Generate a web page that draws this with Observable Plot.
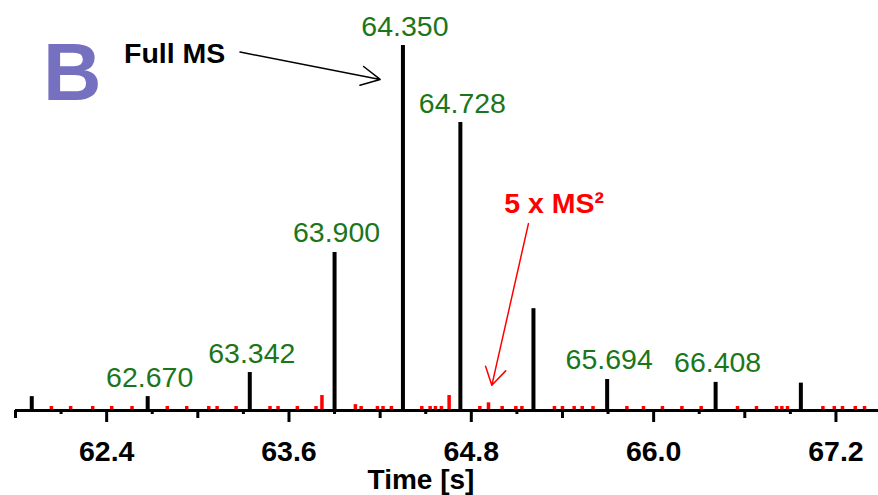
<!DOCTYPE html>
<html>
<head>
<meta charset="utf-8">
<script src="https://cdn.jsdelivr.net/npm/d3@7"></script>
<script src="https://cdn.jsdelivr.net/npm/@observablehq/plot@0.6"></script>
<style>
  html, body { margin: 0; padding: 0; background: #fff; }
</style>
</head>
<body>
<div id="chart"></div>
<script>
// Full MS scans (black): time [s], relative intensity, label
const fullMsTime = [61.907, 62.670, 63.342, 63.900, 64.350, 64.728, 65.209, 65.694, 66.408, 66.969];
const fullMsIntensity = [3.8, 3.8, 10.4, 43.3, 100, 78.9, 27.9, 8.5, 7.7, 7.5];
const fullMsLabels = ["", "62.670", "63.342", "63.900", "64.350", "64.728", "", "65.694", "66.408", ""];

// MS2 scans (red): time [s], relative intensity
const ms2Time = [62.036, 62.163, 62.308, 62.433, 62.567, 62.799, 62.927, 63.072, 63.127, 63.252,
  63.475, 63.528, 63.655, 63.778, 63.817, 64.037, 64.075, 64.182, 64.219, 64.274,
  64.474, 64.529, 64.564, 64.603, 64.654, 64.856, 64.913, 65.003, 65.093, 65.133,
  65.347, 65.400, 65.477, 65.530, 65.601, 65.824, 65.933, 66.058, 66.186, 66.313,
  66.552, 66.677, 66.809, 66.844, 66.881, 67.114, 67.189, 67.243, 67.327, 67.388];
const ms2Intensity = [1.1, 1.1, 1.1, 1.1, 1.1, 1.1, 1.1, 1.1, 1.1, 1.1,
  1.1, 1.1, 1.1, 1.1, 4.1, 1.6, 1.1, 1.1, 1.1, 1.1,
  1.1, 1.1, 1.1, 1.1, 4.1, 1.1, 2.1, 1.1, 1.1, 1.1,
  1.1, 1.1, 1.1, 1.1, 1.1, 1.1, 1.1, 1.1, 1.1, 1.1,
  1.1, 1.1, 1.1, 1.1, 1.1, 1.1, 1.1, 1.1, 1.1, 1.1];

// Axis ticks (three tiers)
const labelTicks = [62.4, 63.6, 64.8, 66.0, 67.2];
const midTicks = [61.8, 63.0, 64.2, 65.4, 66.6];
const shortTicks = [62.1, 62.7, 63.3, 63.9, 64.5, 65.1, 65.7, 66.3, 66.9];
const xLabel = "Time [s]";

// Annotations (data coordinates)
const panelLetter = [{text: "B", x: 62.173, y: 85.2}];
const fullMsNote = [{text: "Full MS", x: 62.514, y: 95.3}];
const fullMsArrow = [{x1: 63.278, y1: 98.2, x2: 64.200, y2: 90.7}];
const ms2Note = [{text: "5 x MS\u00B2", x: 65.345, y: 54.0}];
const ms2Arrow = [{x1: 65.176, y1: 51.2, x2: 64.935, y2: 6.9}];

const fullMs = fullMsTime.map((t, i) => ({t, v: fullMsIntensity[i], label: fullMsLabels[i]}));
const ms2 = ms2Time.map((t, i) => ({t, v: ms2Intensity[i]}));

const font = "'Liberation Sans', Arial, Helvetica, sans-serif";
const green = "#1b761b";
const blank = () => "";

const chart = Plot.plot({
  width: 878,
  height: 495,
  marginLeft: 15,
  marginRight: 0,
  marginTop: 45,
  marginBottom: 85,
  style: {fontFamily: font, background: "#fff", overflow: "visible"},
  x: {domain: [61.8, 67.48], axis: null},
  y: {domain: [0, 100], axis: null},
  marks: [
    Plot.ruleX(ms2, {x: "t", y1: 0, y2: "v", stroke: "#ff0000", strokeWidth: 3.5}),
    Plot.ruleX(fullMs, {x: "t", y1: 0, y2: "v", stroke: "#000", strokeWidth: 4}),
    Plot.ruleY([0], {stroke: "#000", strokeWidth: 3}),
    Plot.axisX(labelTicks, {anchor: "bottom", tickSize: 12, strokeWidth: 3, stroke: "#000", tickFormat: blank, label: null}),
    Plot.axisX(midTicks, {anchor: "bottom", tickSize: 8, strokeWidth: 3, stroke: "#000", tickFormat: blank, label: null}),
    Plot.axisX(shortTicks, {anchor: "bottom", tickSize: 4, strokeWidth: 3, stroke: "#000", tickFormat: blank, label: null}),
    Plot.axisX(labelTicks, {anchor: "bottom", tickSize: 0, tickPadding: 30, fontSize: 28.5, fontWeight: "bold", fill: "#000", tickFormat: d3.format(".1f"), label: null}),
    Plot.text([xLabel], {frameAnchor: "bottom", dx: -26, dy: 78, lineAnchor: "bottom", fontSize: 28, fontWeight: "bold", fill: "#000"}),
    Plot.text(fullMs.filter(d => d.label), {x: "t", y: "v", text: "label", lineAnchor: "bottom", dy: -10, dx: 2, fontSize: 28.5, fill: green}),
    Plot.text(panelLetter, {x: "x", y: "y", text: "text", lineAnchor: "bottom", textAnchor: "middle", fontSize: 81, fontWeight: "bold", fill: "#7571c0"}),
    Plot.text(fullMsNote, {x: "x", y: "y", text: "text", lineAnchor: "bottom", textAnchor: "start", fontSize: 28.5, fontWeight: "bold", fill: "#000"}),
    Plot.arrow(fullMsArrow, {x1: "x1", y1: "y1", x2: "x2", y2: "y2", stroke: "#000", strokeWidth: 1.5, headLength: 21, headAngle: 54, bend: 0}),
    Plot.text(ms2Note, {x: "x", y: "y", text: "text", lineAnchor: "bottom", textAnchor: "middle", fontSize: 28.5, fontWeight: "bold", fill: "#ff0000"}),
    Plot.arrow(ms2Arrow, {x1: "x1", y1: "y1", x2: "x2", y2: "y2", stroke: "#ff0000", strokeWidth: 1.5, headLength: 20, headAngle: 62, bend: 0})
  ]
});
document.getElementById("chart").appendChild(chart);
</script>
</body>
</html>
